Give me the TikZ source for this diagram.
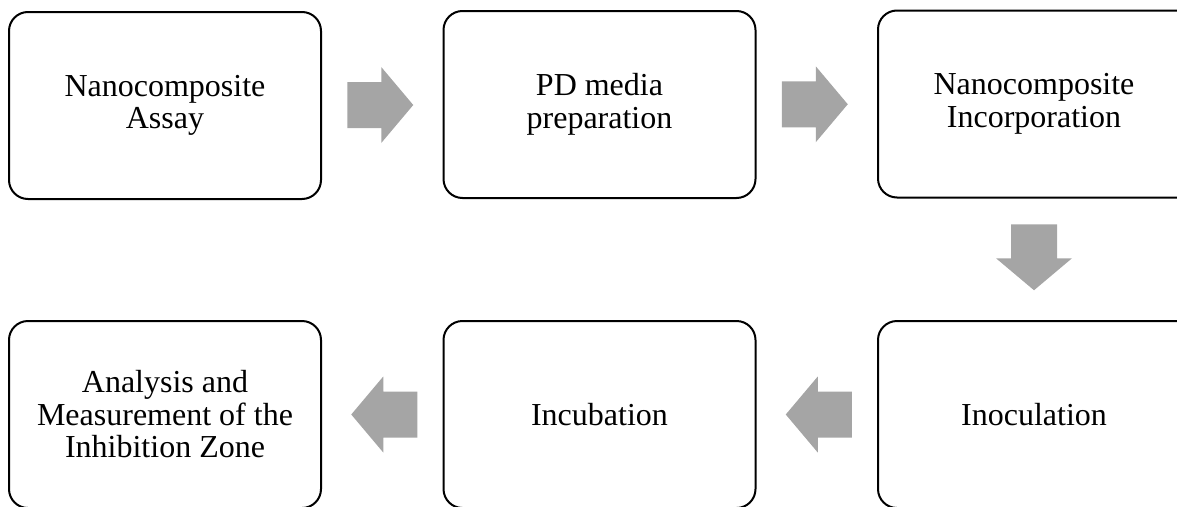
\documentclass[tikz,border=0pt]{standalone}
\usepackage{fontspec}
\setmainfont{Liberation Serif}
\usetikzlibrary{calc}
\definecolor{arrowgray}{HTML}{A5A5A5}
\tikzset{
  boxfont/.style={font=\fontsize{32pt}{32.5pt}\selectfont},
  stepbox/.style={draw=black, line width=2pt, rounded corners=19pt, fill=white,
    minimum width=312pt, minimum height=187pt, align=center, inner sep=0pt, boxfont},
  blockarrow/.pic={\fill[arrowgray] (-35,-23) -- (-1,-23) -- (-1,-38) -- (31,0)
    -- (-1,38) -- (-1,23) -- (-35,23) -- cycle;}
}
\begin{document}
\begin{tikzpicture}[x=1pt,y=-1pt]
\useasboundingbox (0,0) rectangle (1177,506);
\begin{scope}
\clip (0,0) rectangle (1177,506);
\node[stepbox] (n1) at (165,105.5) {Nanocomposite\\Assay};
\node[stepbox] (n2) at (599.5,104.5) {PD media\\preparation};
\node[stepbox, minimum width=340pt] (n3) at (1048,104) {};
\node[boxfont, align=center, inner sep=0pt] (t3) at (1034,104) {Nanocomposite\\Incorporation};
\node[stepbox, minimum width=340pt] (n4) at (1048,414.5) {};
\node[boxfont, inner sep=0pt] (t4) at (1034,414.5) {Inoculation};
\node[stepbox] (n5) at (599.5,414.5) {Incubation};
\node[stepbox] (n6) at (165,414.5) {Analysis and\\Measurement of the\\Inhibition Zone};
\pic at ($(n1.east)!0.5!(n2.west)$) {blockarrow};
\pic at ($(n2.east)!0.5!(n3.west)$) {blockarrow};
\pic[rotate=-90] at ($(t3|-n3.south)!0.5!(t4|-n4.north)$) {blockarrow};
\pic[rotate=180] at ($(n4.west)!0.5!(n5.east)$) {blockarrow};
\pic[rotate=180] at ($(n5.west)!0.5!(n6.east)$) {blockarrow};
\end{scope}
\end{tikzpicture}
\end{document}
